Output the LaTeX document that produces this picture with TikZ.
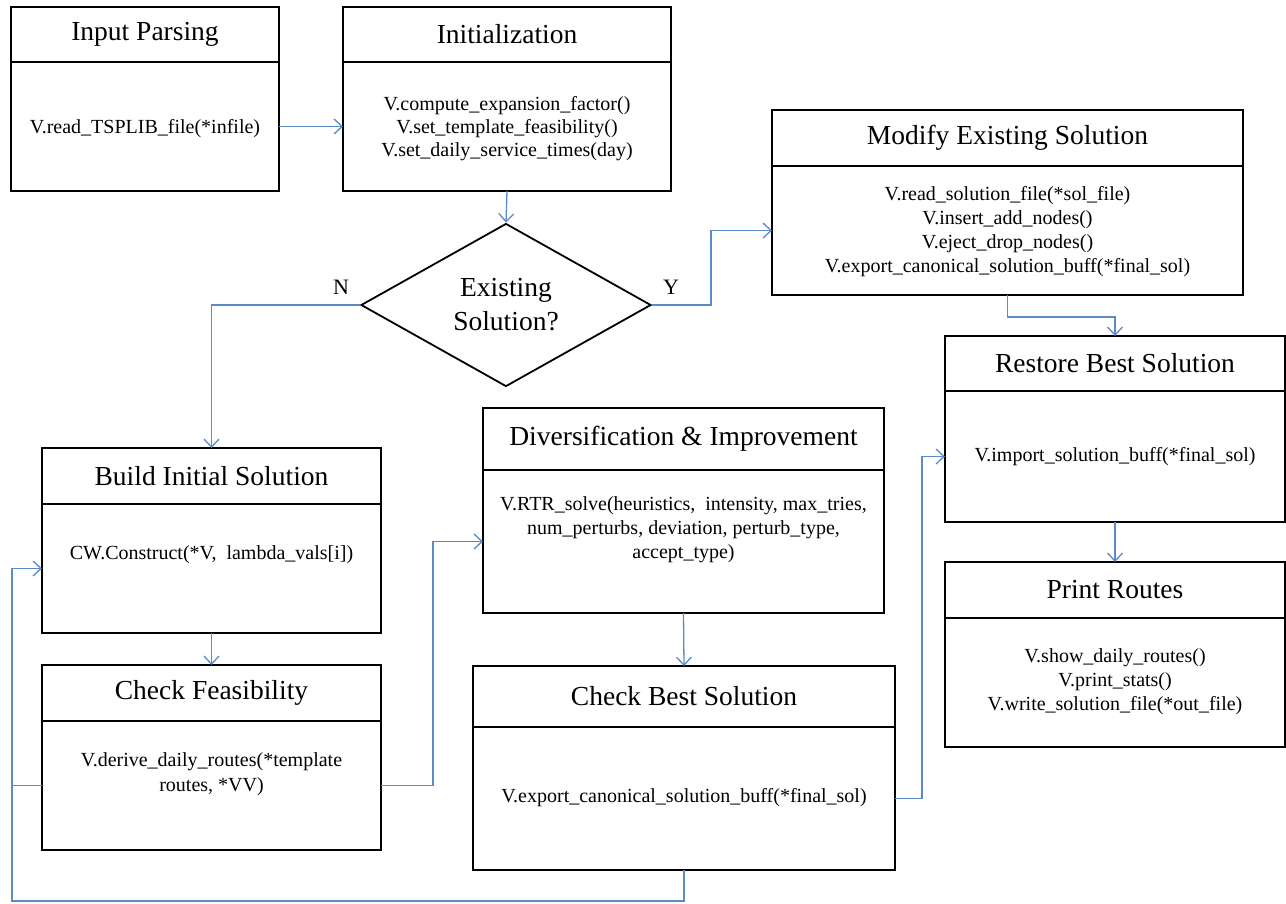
\documentclass[tikz,border=0pt]{standalone}
\usepackage{fontspec}
\setmainfont{Liberation Serif}
\usetikzlibrary{arrows.meta,shapes.geometric}
\definecolor{cblue}{RGB}{91,139,201}
\newcommand\ttlf{\fontsize{27.5}{31}\selectfont}
\newcommand\bodyf{\fontsize{20}{24}\selectfont}
\newcommand\dmf{\fontsize{27.5}{34}\selectfont}
\newcommand\lblf{\fontsize{22}{26}\selectfont}
\begin{document}
\begin{tikzpicture}[x=1pt,y=-1pt,
  box/.style={draw, line width=1.8pt, inner sep=0pt, outer sep=0pt},
  ttl/.style={box, font=\ttlf},
  bodytext/.style={font=\bodyf, align=center, inner sep=0pt},
  conn/.style={draw=cblue, line width=1.3pt},
  arr/.style={conn, -{Straight Barb[length=8pt,width=15pt]}},
  lbl/.style={font=\lblf, inner sep=0pt}]
\fill[white] (0,0) rectangle (1286,903);
\useasboundingbox (0,0) rectangle (1286,903);

% Input Parsing
\node[ttl, minimum width=268pt, minimum height=55pt] (ipT) at (145,34.5) {Input Parsing};
\node[box, minimum width=268pt, minimum height=129pt, anchor=north] (ipB) at (ipT.south) {};
\node[bodytext] (ipX) at (145,129) {V.read\_TSPLIB\_file(*infile)};

% Initialization
\node[ttl, minimum width=328pt, minimum height=55pt] (inT) at (507,34.5) {Initialization};
\node[box, minimum width=328pt, minimum height=129pt, anchor=north] (inB) at (inT.south) {};
\node[bodytext, font=\fontsize{20}{23}\selectfont] (inX) at (507,129) {V.compute\_expansion\_factor()\\V.set\_template\_feasibility()\\V.set\_daily\_service\_times(day)};

% Modify Existing Solution
\node[ttl, minimum width=471pt, minimum height=56pt] (moT) at (1007.5,138) {Modify Existing Solution};
\node[box, minimum width=471pt, minimum height=129pt, anchor=north] (moB) at (moT.south) {};
\node[bodytext] (moX) at (1007.5,232) {V.read\_solution\_file(*sol\_file)\\V.insert\_add\_nodes()\\V.eject\_drop\_nodes()\\V.export\_canonical\_solution\_buff(*final\_sol)};

% Restore Best Solution
\node[ttl, minimum width=340pt, minimum height=55pt] (reT) at (1115,363.5) {Restore Best Solution};
\node[box, minimum width=340pt, minimum height=131pt, anchor=north] (reB) at (reT.south) {};
\node[bodytext] (reX) at (1115,457) {V.import\_solution\_buff(*final\_sol)};

% Print Routes
\node[ttl, minimum width=340pt, minimum height=56pt] (prT) at (1115,590) {Print Routes};
\node[box, minimum width=340pt, minimum height=129pt, anchor=north] (prB) at (prT.south) {};
\node[bodytext] (prX) at (1115,682) {V.show\_daily\_routes()\\V.print\_stats()\\V.write\_solution\_file(*out\_file)};

% Build Initial Solution
\node[ttl, minimum width=339pt, minimum height=56pt] (buT) at (211.5,476) {Build Initial Solution};
\node[box, minimum width=339pt, minimum height=129pt, anchor=north] (buB) at (buT.south) {};
\node[bodytext] (buX) at (211.5,555) {CW.Construct(*V,\ \ lambda\_vals[i])};

% Check Feasibility
\node[ttl, minimum width=339pt, minimum height=56pt] (feT) at (211.5,693) {Check Feasibility};
\node[box, minimum width=339pt, minimum height=129pt, anchor=north] (feB) at (feT.south) {};
\node[bodytext, font=\fontsize{20}{25}\selectfont] (feX) at (211.5,774) {V.derive\_daily\_routes(*template\\routes, *VV)};

% Diversification & Improvement
\node[ttl, minimum width=401pt, minimum height=62pt] (diT) at (683.5,439) {Diversification \& Improvement};
\node[box, minimum width=401pt, minimum height=143pt, anchor=north] (diB) at (diT.south) {};
\node[bodytext] (diX) at (683.5,530) {V.RTR\_solve(heuristics,\ \ intensity, max\_tries,\\num\_perturbs, deviation, perturb\_type,\\accept\_type)};

% Check Best Solution
\node[ttl, minimum width=422pt, minimum height=61pt] (beT) at (684,696.5) {Check Best Solution};
\node[box, minimum width=422pt, minimum height=143pt, anchor=north] (beB) at (beT.south) {};
\node[bodytext] (beX) at (684,798) {V.export\_canonical\_solution\_buff(*final\_sol)};

% Decision
\node[diamond, draw, line width=1.8pt, inner sep=0pt, aspect=1.78, minimum width=290pt, minimum height=163pt, font=\dmf, align=center] (dia) at (506,305) {Existing\\Solution?};
\node[lbl] (nl) at (341,287) {N};
\node[lbl] (yl) at (671,287) {Y};

% helper coordinates
\coordinate (yj) at (711,0);
\coordinate (mj) at (0,317);
\coordinate (fj) at (433,0);
\coordinate (bj) at (922,0);
\coordinate (lb) at (0,901);
\coordinate (lx) at (12,0);

% connectors
\draw[arr] (ipB.east) -- (ipB.east -| inB.west);
\draw[arr] (inB.south) -- (dia.north);
\draw[arr] (dia.west) -| (buT.north);
\draw[arr] (dia.east) -- (dia.east -| yj) |- (moB.west);
\draw[arr] (moB.south) -- (moB.south |- mj) -| (reT.north);
\draw[arr] (reB.south) -- (prT.north);
\draw[arr] (buB.south) -- (feT.north);
\draw[arr] (feB.east) -- (feB.east -| fj) |- (diB.west);
\draw[arr] (diB.south) -- (beT.north);
\draw[arr] (beB.east) -- (beB.east -| bj) |- (reB.west);
\draw[arr] (beB.south) -- (beB.south |- lb) -| (lx |- buB.west) -- (buB.west);
\draw[conn] (feB.west) -- (feB.west -| lx);
\end{tikzpicture}
\end{document}
